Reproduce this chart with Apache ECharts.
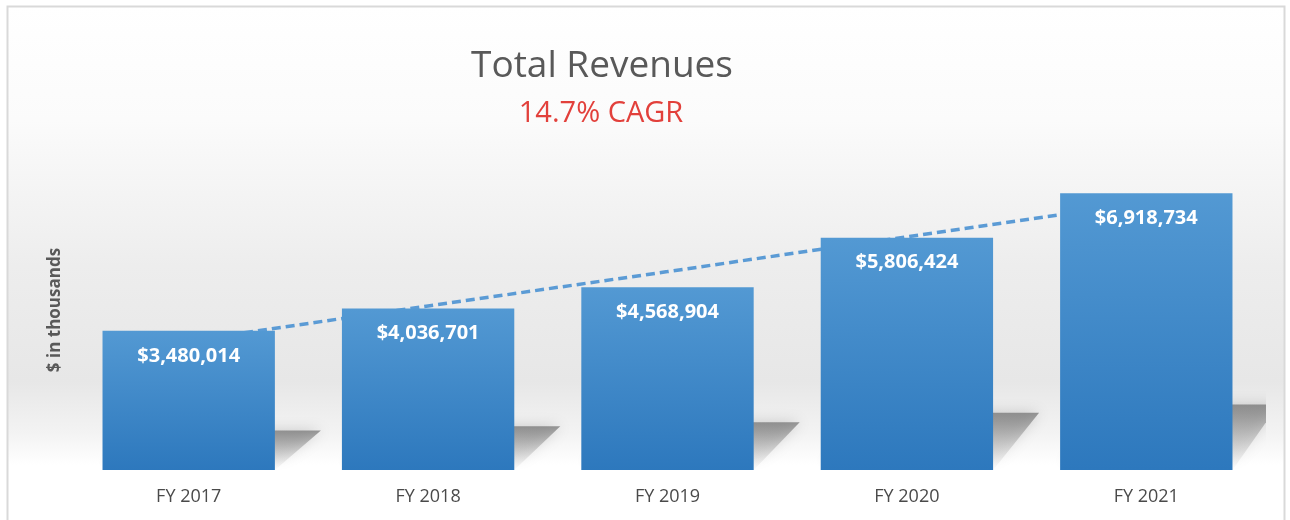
<!DOCTYPE html>
<html>
<head>
<meta charset="utf-8">
<script src="https://cdn.jsdelivr.net/npm/echarts@6/dist/echarts.min.js"></script>
<style>
  html, body { margin: 0; padding: 0; background: #fff; }
  #main { width: 1290px; height: 520px; }
</style>
</head>
<body>
<div id="main"></div>
<script>
// 年份
var categories = ['FY 2017', 'FY 2018', 'FY 2019', 'FY 2020', 'FY 2021'];
// 收入（千美元）
var revenues = [3480014, 4036701, 4568904, 5806424, 6918734];
// 趋势线（从图上读出来的）
var trendValues = [3230000, 4100000, 4960000, 5830000, 6690000];

var chart = echarts.init(document.getElementById('main'), null, { renderer: 'canvas' });

function fmtMoney(v) {
  return '$' + v.toString().replace(/\B(?=(\d{3})+(?!\d))/g, ',');
}

var option = {
  animation: false,
  textStyle: { fontFamily: 'Open Sans' },
  // 背景和边框
  graphic: [{
    type: 'rect',
    z: -10,
    shape: { x: 7.5, y: 6.5, width: 1277, height: 520 },
    style: {
      stroke: '#d9d9d9',
      lineWidth: 2,
      fill: new echarts.graphic.LinearGradient(0, 0, 0, 1, [
        { offset: 0, color: '#ffffff' },
        { offset: 0.22, color: '#fbfbfb' },
        { offset: 0.5, color: '#ededed' },
        { offset: 0.72, color: '#e7e7e7' },
        { offset: 0.82, color: '#f3f3f3' },
        { offset: 0.88, color: '#ffffff' },
        { offset: 1, color: '#ffffff' }
      ])
    }
  }],
  title: [{
    text: 'Total Revenues',
    left: 597,
    top: 43,
    textAlign: 'center',
    textStyle: { fontFamily: 'Open Sans', fontSize: 37, fontWeight: 'normal', color: '#595959' }
  }, {
    text: '14.7% CAGR',
    left: 596,
    top: 94,
    textAlign: 'center',
    textStyle: { fontFamily: 'Open Sans', fontSize: 29, fontWeight: 'normal', color: '#e2403b' }
  }],
  grid: {
    left: 69,
    right: 24,
    top: 150,
    bottom: 50,
    containLabel: false
  },
  xAxis: {
    type: 'category',
    data: categories,
    axisTick: { show: false },
    axisLine: { show: false },
    axisLabel: {
      color: '#4a4a4a',
      fontSize: 18,
      margin: 18
    }
  },
  yAxis: {
    type: 'value',
    min: 0,
    max: 8000000,
    name: '$ in thousands',
    nameLocation: 'middle',
    nameGap: 5,
    nameTextStyle: { color: '#595959', fontSize: 17, fontWeight: 'bold' },
    axisLabel: { show: false },
    axisTick: { show: false },
    axisLine: { show: false },
    splitLine: { show: false }
  },
  series: [{
      // 柱子底部的阴影
      type: 'custom',
      z: 1,
      clip: true,
      data: revenues,
      renderItem: function (params, api) {
        var top = api.coord([api.value(0), api.value(1)]);
        var base = api.coord([api.value(0), 0]);
        var w = api.size([1, 0])[0] * 0.72;
        var h = (base[1] - top[1]) * 0.19 + 13;
        var dx = 46;
        var xl = base[0] - w / 2, xr = base[0] + w / 2;
        return {
          type: 'polygon',
          shape: {
            points: [[xl, base[1]], [xr, base[1]], [xr + dx, base[1] - h], [xl + dx, base[1] - h]]
          },
          style: {
            fill: new echarts.graphic.LinearGradient(0, 0, 0, 1, [
              { offset: 0, color: 'rgba(110,110,110,0.7)' },
              { offset: 1, color: 'rgba(160,160,160,0.02)' }
            ]),
            shadowBlur: 14,
            shadowColor: 'rgba(90,90,90,0.4)'
          }
        };
      },
      encode: { x: 0, y: 1 }
    },
    {
      // 趋势线
      type: 'line',
      z: 2,
      data: trendValues,
      symbol: 'none',
      lineStyle: { color: '#5b9bd5', width: 3.5, type: [9, 5] }
    },
    {
      type: 'bar',
      z: 3,
      data: revenues,
      barWidth: '72%',
      itemStyle: {
        color: new echarts.graphic.LinearGradient(0, 0, 0, 1, [
          { offset: 0, color: '#5399d3' },
          { offset: 1, color: '#2d78bd' }
        ])
      },
      label: {
        show: true,
        position: 'insideTop',
        distance: 15,
        color: '#ffffff',
        fontSize: 20,
        fontWeight: 'bold',
        formatter: function (p) { return fmtMoney(p.value); }
      }
    }
  ]
};

chart.setOption(option);
</script>
</body>
</html>
